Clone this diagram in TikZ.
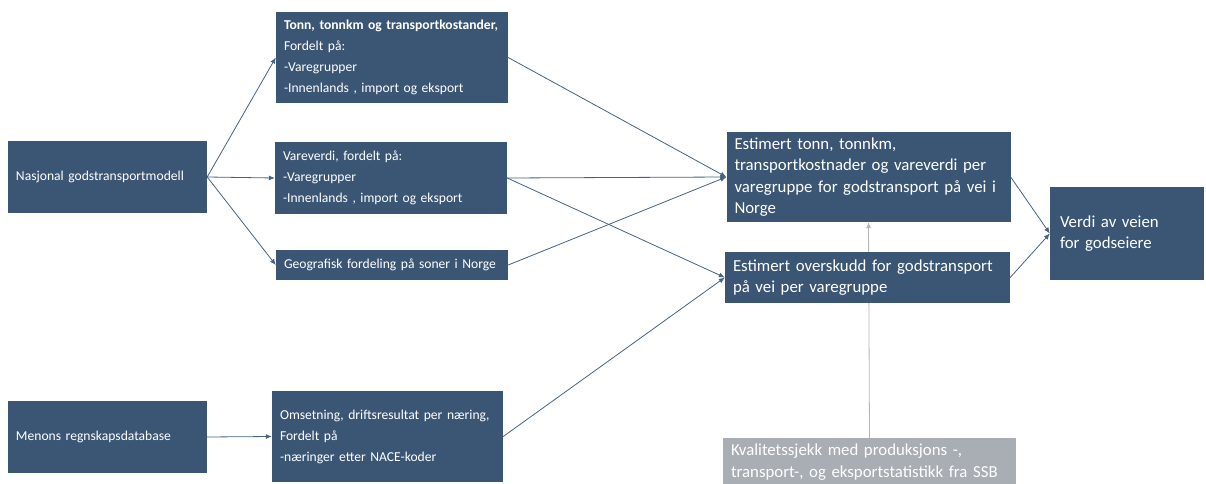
\documentclass[tikz,border=0pt]{standalone}
\usepackage{fontspec}
\setmainfont{Carlito}
\usetikzlibrary{arrows.meta}
\definecolor{boksblaa}{RGB}{59,86,117}
\definecolor{linjeblaa}{RGB}{70,98,130}
\definecolor{boksgraa}{RGB}{169,174,180}
\definecolor{linjegraa}{RGB}{178,182,187}
\tikzset{
  boks/.style={fill=boksblaa, text=white, align=left, inner xsep=8pt, inner ysep=0pt,
    font=\fontsize{13.6}{21}\selectfont},
  storboks/.style={boks, font=\fontsize{16.8}{21.5}\selectfont},
  graboks/.style={storboks, fill=boksgraa},
  pil/.style={draw=linjeblaa, line width=0.8pt, -{Latex[length=6pt,width=5pt]}},
  grapil/.style={draw=linjegraa, line width=0.8pt, -{Latex[length=6pt,width=5pt]}}
}
\begin{document}
\begin{tikzpicture}[x=1pt,y=-1pt]
\useasboundingbox (0,0) rectangle (1206,484);
\node[boks, text width=183pt, minimum height=72pt] (nasjonal) at (107.5,177) {Nasjonal godstransportmodell};
\node[boks, text width=216pt, minimum height=91pt] (tonn) at (392,57.5) {\textbf{Tonn, tonnkm og transportkostander,}\\Fordelt på:\\-Varegrupper\\-Innenlands , import og eksport};
\node[boks, text width=216pt, minimum height=72pt] (vareverdi) at (391,178) {Vareverdi, fordelt på:\\-Varegrupper\\-Innenlands , import og eksport};
\node[boks, text width=216pt, minimum height=30pt] (geo) at (392,265) {Geografisk fordeling på soner i Norge};
\node[boks, text width=183pt, minimum height=72pt] (menons) at (107.5,437) {Menons regnskapsdatabase};
\node[boks, text width=215pt, minimum height=91pt] (omsetning) at (387.5,436.5) {Omsetning, driftsresultat per næring,\\Fordelt på\\-næringer etter NACE-koder};
\node[storboks, text width=268pt, minimum height=90pt] (esttonn) at (868.5,177) {Estimert tonn, tonnkm,\\transportkostnader og vareverdi per\\varegruppe for godstransport på vei i\\Norge};
\node[graboks, text width=277pt, minimum height=48pt] (kval) at (869.5,462) {Kvalitetssjekk med produksjons -,\\transport-, og eksportstatistikk fra SSB};
\draw[grapil] (kval.north) -- (esttonn.south);
\node[storboks, text width=269pt, minimum height=51pt] (estover) at (867.5,277.5) {Estimert overskudd for godstransport\\på vei per varegruppe};
\node[storboks, inner xsep=10pt, text width=134pt, minimum height=93pt] (verdi) at (1127,233.5) {Verdi av veien\\for godseiere};
\draw[pil] (nasjonal.east) -- (tonn.west);
\draw[pil] (nasjonal.east) -- (vareverdi.west);
\draw[pil] (nasjonal.east) -- (geo.west);
\draw[pil] (menons.east) -- (omsetning.west);
\draw[pil] (tonn.east) -- (esttonn.west);
\draw[pil] (vareverdi.east) -- (esttonn.west);
\draw[pil] (geo.east) -- (esttonn.west);
\draw[pil] (vareverdi.east) -- (estover.west);
\draw[pil] (omsetning.east) -- (estover.west);
\draw[pil] (esttonn.east) -- (verdi.west);
\draw[pil] (estover.east) -- (verdi.west);
\end{tikzpicture}
\end{document}
